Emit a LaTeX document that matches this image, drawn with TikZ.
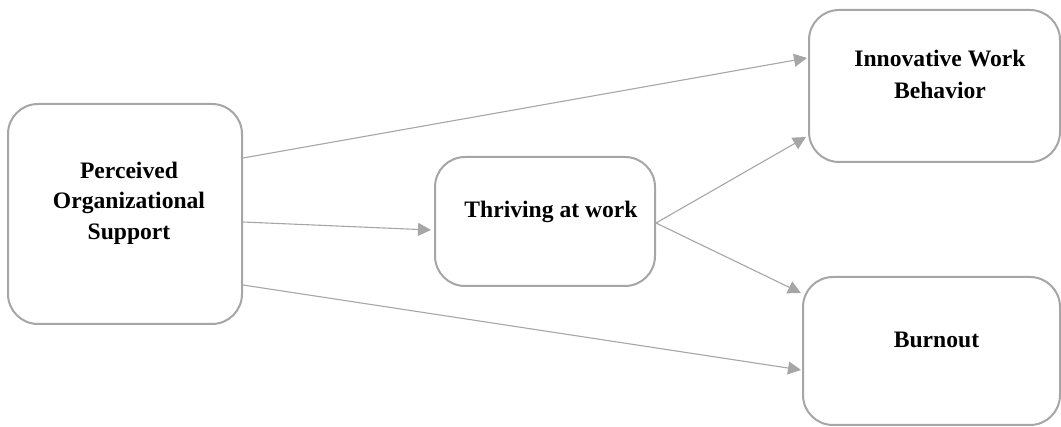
\documentclass[tikz,border=0pt]{standalone}
\usepackage{fontspec}
\setmainfont{Liberation Serif}
\usetikzlibrary{arrows.meta,calc}
\definecolor{boxgray}{HTML}{A6A6A6}
\definecolor{arrgray}{HTML}{A6A6A6}
\begin{document}
\begin{tikzpicture}[x=0.5pt,y=-0.5pt,
  box/.style={draw=boxgray,line width=1pt,rounded corners=15pt,inner sep=0pt,fill=white},
  lbl/.style={font=\fontsize{11.8}{15.25}\selectfont\bfseries,inner sep=0pt,align=center},
  conn/.style={draw=arrgray,line width=0.55pt,-{Triangle[length=6.5pt,width=6.5pt]}}]
\useasboundingbox (0,0) rectangle (1061,427);
\node[box,minimum width=117pt,minimum height=110pt] (pos) at (125,214) {};
\node[box,minimum width=110pt,minimum height=64.5pt] (thr) at (545,221.5) {};
\node[box,minimum width=125.5pt,minimum height=76pt] (iwb) at (934.5,86) {};
\node[box,minimum width=128.5pt,minimum height=74pt] (bur) at (931.5,351) {};
\node[lbl] (posT) at (129,203) {Perceived\\Organizational\\Support};
\node[lbl,anchor=base] (thrT) at (551,218) {Thriving at work};
\node[lbl,font=\fontsize{11.8}{16}\selectfont\bfseries] (iwbT) at (940,74) {Innovative Work\\Behavior};
\node[lbl,anchor=base] (burT) at (936.5,348) {Burnout};
\draw[conn] ($(pos.east)+(0,-56)$) -- ($(iwb.west)+(-1,-28)$);
\draw[conn] ($(pos.east)+(0,8)$) -- ($(thr.west)+(-3,8.5)$);
\draw[conn] ($(pos.east)+(0,71)$) -- ($(bur.west)+(-1,19)$);
\draw[conn] ($(thr.east)+(0,1.5)$) -- ($(iwb.west)+(-2,51)$);
\draw[conn] ($(thr.east)+(0,1.5)$) -- ($(bur.west)+(-1,-58)$);
\end{tikzpicture}
\end{document}
